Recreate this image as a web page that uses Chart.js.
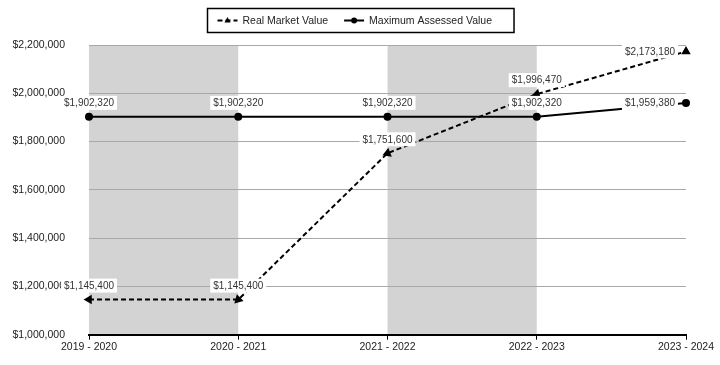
<!DOCTYPE html>
<html>
<head>
<meta charset="utf-8">
<script src="https://cdn.jsdelivr.net/npm/chart.js@4.4.1/dist/chart.umd.min.js"></script>
<style>
  html, body { margin: 0; padding: 0; background: #fff; }
  #wrap { width: 720px; height: 365px; }
</style>
</head>
<body>
<div id="wrap"><canvas id="chart" width="720" height="365"></canvas></div>
<script>
// data
const years = ['2019 - 2020', '2020 - 2021', '2021 - 2022', '2022 - 2023', '2023 - 2024'];
const realMarketValue = [1145400, 1145400, 1751600, 1996470, 2173180];
const maxAssessedValue = [1902320, 1902320, 1902320, 1902320, 1959380];
const yMin = 1000000;
const yMax = 2200000;
const yStep = 200000;
// shaded columns, by category index (from, to)
const shadedBands = [[0, 1], [2, 3]];

const FONT = "'Liberation Sans', Arial, sans-serif";
const money = v => '$' + v.toLocaleString('en-US');

// triangle points along the line, toward this point from the next one
const arrowRotation = (ctx) => {
    const chart = ctx.chart, i = ctx.dataIndex, data = ctx.dataset.data;
    const xs = chart.scales.x, ys = chart.scales.y;
    if (!xs || !ys || i === undefined) return 0;
    if (i === data.length - 1) return 0;
    const dx = xs.getPixelForValue(i) - xs.getPixelForValue(i + 1);
    const dy = ys.getPixelForValue(data[i]) - ys.getPixelForValue(data[i + 1]);
    return Math.atan2(dy, dx) * 180 / Math.PI + 90;
};

const bandsPlugin = {
    id: 'bands',
    beforeDraw(chart) {
        const { ctx, chartArea, scales } = chart;
        ctx.save();
        ctx.fillStyle = '#fff';
        ctx.fillRect(0, 0, chart.width, chart.height);
        ctx.fillStyle = '#d3d3d3';
        shadedBands.forEach(([a, b]) => {
            const x1 = scales.x.getPixelForValue(a);
            const x2 = scales.x.getPixelForValue(b);
            ctx.fillRect(x1, chartArea.top, x2 - x1, chartArea.bottom - chartArea.top);
        });
        ctx.restore();
    }
};

const labelsPlugin = {
    id: 'valueLabels',
    afterDatasetsDraw(chart) {
        const ctx = chart.ctx;
        ctx.save();
        ctx.font = '10px ' + FONT;
        ctx.textBaseline = 'middle';
        chart.data.datasets.forEach((ds, di) => {
            const meta = chart.getDatasetMeta(di);
            meta.data.forEach((pt, i) => {
                const text = money(ds.data[i]);
                const w = ctx.measureText(text).width;
                let cx, cy;
                if (i === ds.data.length - 1) {
                    cx = pt.x - 11 - w / 2;
                    cy = pt.y;
                } else {
                    cx = pt.x;
                    cy = pt.y - 14;
                }
                ctx.fillStyle = '#fff';
                ctx.fillRect(cx - w / 2 - 3, cy - 7, w + 6, 14);
                ctx.fillStyle = '#333';
                ctx.textAlign = 'center';
                ctx.fillText(text, cx, cy + 0.5);
            });
        });
        ctx.restore();
    }
};

const legendPlugin = {
    id: 'boxLegend',
    afterDraw(chart) {
        const ctx = chart.ctx;
        ctx.save();
        ctx.font = '10.5px ' + FONT;
        ctx.textBaseline = 'middle';
        const items = chart.data.datasets.map(ds => ({ ds, w: ctx.measureText(ds.label).width }));
        const sample = 20, gap = 5, between = 16, padL = 10, padR = 22;
        const total = items.reduce((s, it) => s + sample + gap + it.w, 0) + between * (items.length - 1) + padL + padR;
        const left = Math.round(chart.width / 2 - total / 2) + 0.5;
        const top = 8.5, h = 24, cy = top + h / 2;
        ctx.strokeStyle = '#000';
        ctx.lineWidth = 1.5;
        ctx.strokeRect(left, top, total, h);
        let x = left + padL;
        items.forEach(({ ds, w }) => {
            ctx.strokeStyle = '#000';
            ctx.lineWidth = 2;
            ctx.setLineDash(ds.borderDash || []);
            ctx.beginPath();
            ctx.moveTo(x, cy);
            ctx.lineTo(x + sample, cy);
            ctx.stroke();
            ctx.setLineDash([]);
            ctx.fillStyle = '#000';
            const mx = x + sample / 2;
            ctx.beginPath();
            if (ds.pointStyle === 'triangle') {
                ctx.moveTo(mx, cy - 3.5);
                ctx.lineTo(mx + 3, cy + 2);
                ctx.lineTo(mx - 3, cy + 2);
                ctx.closePath();
            } else {
                ctx.arc(mx, cy, 3, 0, Math.PI * 2);
            }
            ctx.fill();
            ctx.fillStyle = '#222';
            ctx.textAlign = 'left';
            ctx.fillText(ds.label, x + sample + gap, cy + 0.5);
            x += sample + gap + w + between;
        });
        ctx.restore();
    }
};

new Chart(document.getElementById('chart'), {
    type: 'line',
    data: {
        labels: years,
        datasets: [
            {
                label: 'Real Market Value',
                data: realMarketValue,
                borderColor: '#000',
                backgroundColor: '#000',
                borderWidth: 2,
                borderDash: [5, 3],
                pointStyle: 'triangle',
                pointRadius: 3.5,
                pointRotation: arrowRotation,
                tension: 0
            },
            {
                label: 'Maximum Assessed Value',
                data: maxAssessedValue,
                borderColor: '#000',
                backgroundColor: '#000',
                borderWidth: 2,
                pointStyle: 'circle',
                pointRadius: 3,
                tension: 0
            }
        ]
    },
    options: {
        responsive: false,
        animation: false,
        devicePixelRatio: 1,
        // bottom pulled in a bit, chart.js reserves more room under the axis than needed
        layout: { padding: { top: 45, right: 34, left: 0, bottom: -3 } },
        plugins: {
            legend: { display: false },
            tooltip: { enabled: false }
        },
        scales: {
            x: {
                offset: false,
                grid: { drawOnChartArea: false, drawTicks: true, tickLength: 5, color: '#000', lineWidth: 1 },
                border: { color: '#000', width: 2 },
                ticks: { color: '#222', font: { family: FONT, size: 10.5 }, padding: 1, maxRotation: 0, autoSkip: false }
            },
            y: {
                min: yMin,
                max: yMax,
                grid: { color: '#a8a8a8', lineWidth: 1, drawTicks: false },
                border: { display: false },
                ticks: {
                    stepSize: yStep,
                    color: '#222',
                    font: { family: FONT, size: 10.5 },
                    padding: 24,
                    callback: v => money(v)
                },
                afterFit(scale) { scale.width = 89; }
            }
        }
    },
    plugins: [bandsPlugin, labelsPlugin, legendPlugin]
});
</script>
</body>
</html>
